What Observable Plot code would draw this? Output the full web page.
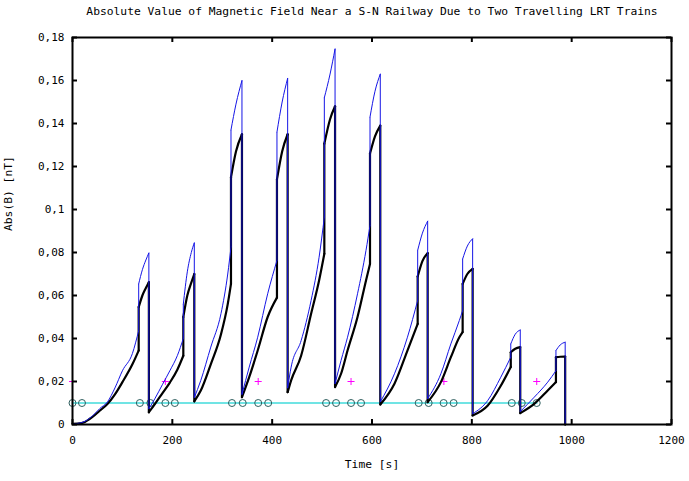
<!DOCTYPE html>
<html>
<head>
<meta charset="utf-8">
<script src="https://cdn.jsdelivr.net/npm/d3@7"></script>
<script src="https://cdn.jsdelivr.net/npm/@observablehq/plot@0.6"></script>
<style>
  html, body { margin: 0; padding: 0; background: #fff; }
</style>
</head>
<body>
<div id="chart"></div>
<script>
const titleText = "Absolute Value of Magnetic Field Near a S-N Railway Due to Two Travelling LRT Trains";
const xLabel = "Time [s]";
const yLabel = "Abs(B) [nT]";

const xTicks = [0, 200, 400, 600, 800, 1000, 1200];
const yTicks = [0, 0.02, 0.04, 0.06, 0.08, 0.1, 0.12, 0.14, 0.16, 0.18];

// time samples [s] (a repeated time marks a vertical jump)
const timeS = [
  0, 10, 25, 40, 55, 70, 85, 100, 120, 132.6, 132.6, 140, 147, 153,
  153, 165, 180, 195, 210, 222, 222, 230, 238, 244,
  244, 257, 277, 297.5, 311, 317.5, 317.5, 327.5, 339.5,
  339.5, 354, 371, 391, 409.6, 409.6, 420, 431,
  431, 438, 458, 478, 494, 504.5, 504.5, 516, 526,
  526, 538, 551, 571, 588, 596, 596, 606, 616.6,
  616.6, 645, 671, 691.5, 691.5, 701, 711.5,
  711.5, 738, 758, 775, 781.6, 781.6, 791, 801.6,
  801.6, 832, 858, 878, 878, 887, 897,
  897, 925, 952, 968.5, 968.5, 977, 987, 987
];
// upper (blue) curve [nT]
const fieldBlue = [
  0.0003, 0.0005, 0.0015, 0.004, 0.0075, 0.0105, 0.017, 0.025, 0.033, 0.0437, 0.0654, 0.072, 0.0765, 0.0798,
  0.0073, 0.012, 0.0185, 0.025, 0.032, 0.040, 0.056, 0.071, 0.080, 0.0845,
  0.0125, 0.0205, 0.036, 0.0516, 0.070, 0.0825, 0.137, 0.149, 0.160,
  0.014, 0.0267, 0.0406, 0.0608, 0.0763, 0.136, 0.150, 0.161,
  0.017, 0.0267, 0.039, 0.0577, 0.0778, 0.0964, 0.152, 0.163, 0.1747,
  0.019, 0.0298, 0.0406, 0.0608, 0.081, 0.0926, 0.143, 0.155, 0.163,
  0.0105, 0.0236, 0.0406, 0.0577, 0.081, 0.089, 0.0946,
  0.012, 0.0236, 0.0375, 0.0484, 0.053, 0.077, 0.083, 0.0864,
  0.005, 0.0112, 0.022, 0.0313, 0.0375, 0.042, 0.044,
  0.006, 0.0127, 0.0197, 0.025, 0.0344, 0.037, 0.0383, 0
];
// lower (black) curve [nT]
const fieldBlack = [
  0.0003, 0.0004, 0.0012, 0.0035, 0.0065, 0.0095, 0.014, 0.0197, 0.028, 0.0344, 0.0546, 0.060, 0.0635, 0.0662,
  0.0057, 0.0095, 0.0145, 0.0195, 0.0255, 0.032, 0.050, 0.060, 0.066, 0.070,
  0.0108, 0.0158, 0.028, 0.042, 0.056, 0.0654, 0.115, 0.127, 0.135,
  0.0127, 0.022, 0.0344, 0.050, 0.059, 0.114, 0.127, 0.135,
  0.015, 0.0205, 0.032, 0.0515, 0.067, 0.0794, 0.1306, 0.142, 0.148,
  0.0174, 0.0236, 0.0344, 0.050, 0.067, 0.0747, 0.126, 0.134, 0.139,
  0.0093, 0.019, 0.0344, 0.0468, 0.0688, 0.076, 0.0797,
  0.0104, 0.0197, 0.0313, 0.0406, 0.043, 0.0654, 0.070, 0.0724,
  0.0042, 0.0088, 0.018, 0.0267, 0.0336, 0.0352, 0.036,
  0.0053, 0.0096, 0.0158, 0.0197, 0.0313, 0.0315, 0.0316, 0
];

// reference level line and markers
const refLineTimes = [0, 930];
const refLevel = 0.01;
const circleTimes = [0, 19, 135, 156, 186, 205, 319.5, 341, 372, 392, 508, 528, 558, 578, 693.5, 713.5, 743.5, 763.5, 880, 900, 930];
const crossTimes = [0, 186, 372, 558, 744, 930];
const crossLevel = 0.02;

// split each series into smooth pieces at the repeated times, plus vertical jumps
function pieces(values) {
  const rows = [], jumps = [];
  let piece = 0;
  timeS.forEach((t, i) => {
    if (i > 0 && t === timeS[i - 1]) {
      piece++;
      jumps.push({t, from: values[i - 1], to: values[i]});
    }
    rows.push({t, v: values[i], piece});
  });
  return {rows, jumps};
}
const blue = pieces(fieldBlue);
const black = pieces(fieldBlack);

const fmtY = d => d === 0 ? "0" : String(+d.toFixed(2)).replace(".", ",");
const fmtX = d => String(d);

const W = 689, H = 481, mT = 37, mB = 57, mL = 72, mR = 18;
const innerW = W - mL - mR, innerH = H - mT - mB;

const chart = Plot.plot({
  width: W, height: H,
  marginTop: mT, marginBottom: mB, marginLeft: mL, marginRight: mR,
  style: {fontFamily: "'DejaVu Sans Mono', monospace", fontSize: "11px", background: "#fff", color: "#000"},
  x: {domain: [0, 1200]},
  y: {domain: [0, 0.18]},
  marks: [
    Plot.line(refLineTimes, {x: d => d, y: () => refLevel, stroke: "#70e4e4", strokeWidth: 2}),
    Plot.dot(circleTimes, {x: d => d, y: () => refLevel, r: 3.5, stroke: "#2f5f5f", strokeWidth: 1, fill: "none"}),
    Plot.dot(crossTimes, {x: d => d, y: () => crossLevel, symbol: "plus", r: 2.4, stroke: "#ff00ff", strokeWidth: 1}),
    Plot.line(black.rows, {x: "t", y: "v", z: "piece", curve: "monotone-x", stroke: "#000", strokeWidth: 2.2, strokeLinecap: "round"}),
    Plot.link(black.jumps, {x1: "t", x2: "t", y1: "from", y2: "to", stroke: "#000", strokeWidth: 2.2, strokeLinecap: "round"}),
    Plot.line(blue.rows, {x: "t", y: "v", z: "piece", curve: "monotone-x", stroke: "#1515e6", strokeWidth: 1}),
    Plot.link(blue.jumps, {x1: "t", x2: "t", y1: "from", y2: "to", stroke: "#1515e6", strokeWidth: 1}),
    Plot.frame({stroke: "#000", strokeWidth: 2}),
    Plot.tickX(xTicks, {x: d => d, insetTop: innerH - 5, stroke: "#000", strokeWidth: 2}),
    Plot.tickX(xTicks, {x: d => d, insetBottom: innerH - 5, stroke: "#000", strokeWidth: 2}),
    Plot.tickY(yTicks, {y: d => d, insetRight: innerW - 5, stroke: "#000", strokeWidth: 2}),
    Plot.tickY(yTicks, {y: d => d, insetLeft: innerW - 5, stroke: "#000", strokeWidth: 2}),
    Plot.axisX(xTicks, {tickSize: 0, tickPadding: 12, tickFormat: fmtX, label: null, fontSize: 11}),
    Plot.axisY(yTicks, {tickSize: 0, tickPadding: 8, tickFormat: fmtY, label: null, fontSize: 11}),
    Plot.text([titleText], {frameAnchor: "top", dy: -31, fontSize: 11.3}),
    Plot.text([xLabel], {frameAnchor: "bottom", dy: 43, fontSize: 11.3}),
    Plot.text([yLabel], {frameAnchor: "left", dx: -64, rotate: -90, fontSize: 11.3})
  ]
});
document.getElementById("chart").appendChild(chart);
</script>
</body>
</html>
